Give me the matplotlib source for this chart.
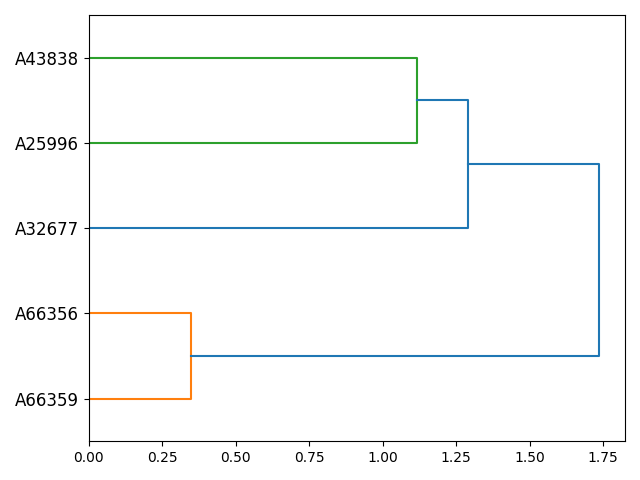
import matplotlib
matplotlib.use("Agg")
import matplotlib.pyplot as plt

# leaf labels, bottom to top
leaves = ["A66359", "A66356", "A32677", "A25996", "A43838"]
merge_heights = [0.348, 1.117, 1.292, 1.738]
link_colors = ["C1", "C2", "C0", "C0"]

fig, ax = plt.subplots(figsize=(6.4, 4.8), dpi=100)

leaf_y = [5 + 10 * i for i in range(len(leaves))]

# cluster 1: A66359 + A66356
h0 = merge_heights[0]
c0 = (leaf_y[0] + leaf_y[1]) / 2
ax.plot([0, h0, h0, 0], [leaf_y[0], leaf_y[0], leaf_y[1], leaf_y[1]], color=link_colors[0])
# cluster 2: A25996 + A43838
h1 = merge_heights[1]
c1 = (leaf_y[3] + leaf_y[4]) / 2
ax.plot([0, h1, h1, 0], [leaf_y[3], leaf_y[3], leaf_y[4], leaf_y[4]], color=link_colors[1])
# cluster 3: A32677 + cluster 2
h2 = merge_heights[2]
c2 = (leaf_y[2] + c1) / 2
ax.plot([0, h2, h2, h1], [leaf_y[2], leaf_y[2], c1, c1], color=link_colors[2])
# root: cluster 1 + cluster 3
h3 = merge_heights[3]
ax.plot([h0, h3, h3, h2], [c0, c0, c2, c2], color=link_colors[3])

ax.set_ylim(0, 10 * len(leaves))
ax.set_xlim(0, max(merge_heights) * 1.05)
ax.set_yticks(leaf_y)
ax.set_yticklabels(leaves, fontsize=12)

fig.tight_layout()
fig.savefig("out.png", dpi=100)
